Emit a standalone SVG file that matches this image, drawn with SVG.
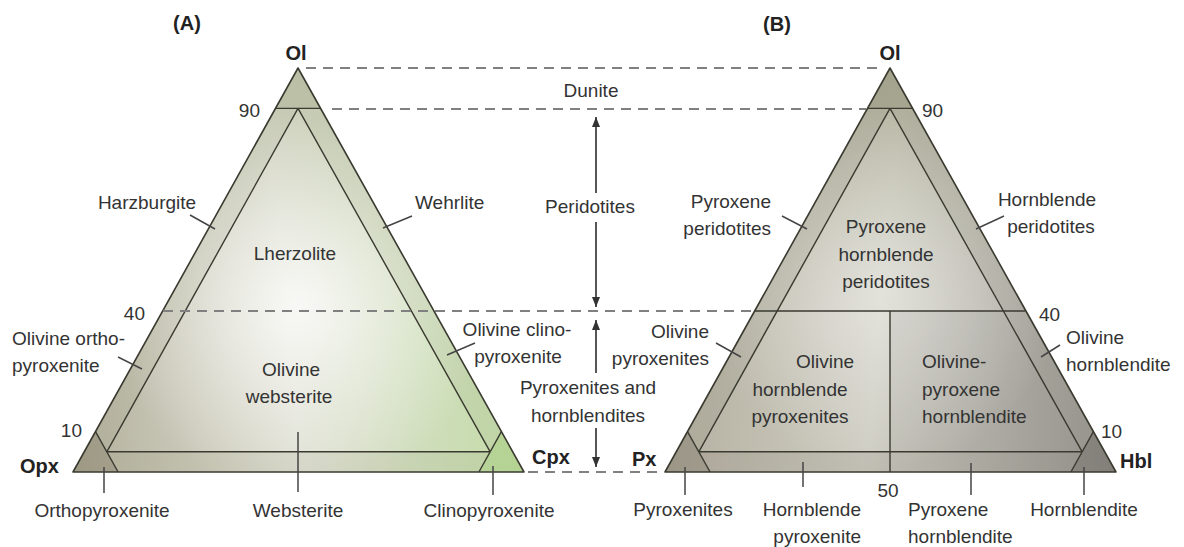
<svg xmlns="http://www.w3.org/2000/svg" width="1184" height="547" viewBox="0 0 1184 547">
  <style>
    text { font-family: "Liberation Sans", Arial, sans-serif; font-size: 19px; fill: #333; }
    .b { font-weight: bold; font-size: 20px; fill: #222; }
    .m { text-anchor: middle; }
    .e { text-anchor: end; }
    .edge { fill: none; stroke: #3a3a30; stroke-width: 1.6; stroke-linejoin: round; }
    .inner { fill: none; stroke: #3a3a30; stroke-width: 1.4; }
    .dash { fill: none; stroke: #808080; stroke-width: 2; stroke-dasharray: 10 7; }
    .lead { fill: none; stroke: #454545; stroke-width: 1.5; }
    .arr { fill: none; stroke: #444; stroke-width: 1.8; marker-end: url(#head); }
  </style>
  <defs>
    <marker id="head" viewBox="0 0 10 8" refX="10" refY="4" markerWidth="10" markerHeight="8" markerUnits="userSpaceOnUse" orient="auto">
      <path d="M0,0 L10,4 L0,8 z" fill="#333"/>
    </marker>
    <!-- shading for the Ol-Opx-Cpx triangle (local coordinates) -->
    <linearGradient id="aBase" gradientUnits="userSpaceOnUse" x1="73" y1="460" x2="524" y2="420">
      <stop offset="0" stop-color="#b3af9c"/>
      <stop offset="0.5" stop-color="#dedfd2"/>
      <stop offset="1" stop-color="#c3dca8"/>
    </linearGradient>
    <linearGradient id="aTop" gradientUnits="userSpaceOnUse" x1="0" y1="68" x2="0" y2="320">
      <stop offset="0" stop-color="#c0c3aa" stop-opacity="0.55"/>
      <stop offset="1" stop-color="#c0c3aa" stop-opacity="0"/>
    </linearGradient>
    <radialGradient id="aGlow" gradientUnits="userSpaceOnUse" cx="300" cy="305" r="190">
      <stop offset="0" stop-color="#fff" stop-opacity="0.8"/>
      <stop offset="0.6" stop-color="#fff" stop-opacity="0.3"/>
      <stop offset="1" stop-color="#fff" stop-opacity="0"/>
    </radialGradient>
    <!-- shading for the Ol-Px-Hbl triangle (local coordinates) -->
    <linearGradient id="bBase" gradientUnits="userSpaceOnUse" x1="73" y1="430" x2="524" y2="470">
      <stop offset="0" stop-color="#b5b0a0"/>
      <stop offset="0.45" stop-color="#cecdc2"/>
      <stop offset="1" stop-color="#98958f"/>
    </linearGradient>
    <linearGradient id="bTop" gradientUnits="userSpaceOnUse" x1="0" y1="68" x2="0" y2="320">
      <stop offset="0" stop-color="#a8a890" stop-opacity="0.65"/>
      <stop offset="1" stop-color="#a8a890" stop-opacity="0"/>
    </linearGradient>
    <radialGradient id="bGlow" gradientUnits="userSpaceOnUse" cx="290" cy="290" r="180">
      <stop offset="0" stop-color="#fff" stop-opacity="0.45"/>
      <stop offset="1" stop-color="#fff" stop-opacity="0"/>
    </radialGradient>
  </defs>

  <!-- guide lines shared by both triangles -->
  <g id="guides">
    <line class="dash" x1="306" y1="68" x2="884" y2="68"/>
    <line class="dash" x1="332" y1="109" x2="866" y2="109"/>
    <line class="dash" x1="163" y1="311" x2="755" y2="311"/>
    <line class="dash" x1="528" y1="472" x2="662" y2="472"/>
  </g>

  <!-- triangle A: Ol - Opx - Cpx -->
  <g id="triangleA">
    <polygon points="298,68 73,472 524,472" fill="url(#aBase)"/>
    <polygon points="298,68 73,472 524,472" fill="url(#aTop)"/>
    <polygon points="298,68 73,472 524,472" fill="url(#aGlow)"/>
    <polygon id="a-dunite" points="298,68 275.5,108.4 320.6,108.4" fill="#8d9270" fill-opacity="0.28"/>
    <polygon id="a-harzburgite" points="275.5,108.4 298,108.4 106.8,451.8 95.5,431.6" fill="#969c7c" fill-opacity="0.12"/>
    <polygon id="a-wehrlite" points="320.6,108.4 298,108.4 490.2,451.8 501.4,431.6" fill="#969c7c" fill-opacity="0.12"/>
    <polygon id="a-websterite" points="106.8,451.8 490.2,451.8 478.9,472 118.1,472" fill="#88886c" fill-opacity="0.12"/>
    <polygon id="a-opx" points="73,472 95.5,431.6 106.8,451.8 118.1,472" fill="#6e6650" fill-opacity="0.3"/>
    <polygon id="a-cpx" points="524,472 501.4,431.6 490.2,451.8 478.9,472" fill="#8fc060" fill-opacity="0.3"/>
    <polygon class="edge" points="298,68 73,472 524,472"/>
    <path class="inner" d="M275.5,108.4 H320.6 M298,108.4 L106.8,451.8 M298,108.4 L490.2,451.8 M106.8,451.8 H490.2 M95.5,431.6 L118.1,472 M501.4,431.6 L478.9,472"/>
    <line class="dash" x1="163" y1="311" x2="434" y2="311"/>
  </g>

  <!-- triangle B: Ol - Px - Hbl -->
  <g id="triangleB" transform="translate(592,0)">
    <polygon points="298,68 73,472 524,472" fill="url(#bBase)"/>
    <polygon points="298,68 73,472 524,472" fill="url(#bTop)"/>
    <polygon points="298,68 73,472 524,472" fill="url(#bGlow)"/>
    <polygon id="b-dunite" points="298,68 275.5,108.4 320.6,108.4" fill="#6f6f50" fill-opacity="0.25"/>
    <polygon id="b-pxper" points="275.5,108.4 298,108.4 106.8,451.8 95.5,431.6" fill="#707060" fill-opacity="0.12"/>
    <polygon id="b-hblper" points="320.6,108.4 298,108.4 490.2,451.8 501.4,431.6" fill="#707060" fill-opacity="0.12"/>
    <polygon id="b-right" points="298,311 410.8,311 490.2,451.8 298,451.8" fill="#5a5855" fill-opacity="0.08"/>
    <polygon id="b-strip" points="106.8,451.8 490.2,451.8 478.9,472 118.1,472" fill="#605e50" fill-opacity="0.12"/>
    <polygon id="b-px" points="73,472 95.5,431.6 106.8,451.8 118.1,472" fill="#5a5446" fill-opacity="0.28"/>
    <polygon id="b-hbl" points="524,472 501.4,431.6 490.2,451.8 478.9,472" fill="#4a4642" fill-opacity="0.28"/>
    <polygon class="edge" points="298,68 73,472 524,472"/>
    <path class="inner" d="M275.5,108.4 H320.6 M298,108.4 L106.8,451.8 M298,108.4 L490.2,451.8 M106.8,451.8 H490.2 M95.5,431.6 L118.1,472 M501.4,431.6 L478.9,472 M162.7,311 H433.3 M298,311 V472"/>
  </g>

  <!-- leader lines and range arrows -->
  <g id="connectors">
    <line class="lead" x1="190" y1="215" x2="215" y2="229"/>
    <line class="lead" x1="412" y1="216" x2="383" y2="228"/>
    <line class="lead" x1="118" y1="357" x2="142" y2="369"/>
    <line class="lead" x1="475" y1="343" x2="447" y2="355"/>
    <line class="lead" x1="104" y1="467" x2="104" y2="493"/>
    <line class="lead" x1="298" y1="432" x2="298" y2="492"/>
    <line class="lead" x1="493" y1="466" x2="493" y2="495"/>
    <line class="lead" x1="782" y1="216" x2="807" y2="229"/>
    <line class="lead" x1="1004" y1="216" x2="976" y2="229"/>
    <line class="lead" x1="716" y1="343" x2="741" y2="357"/>
    <line class="lead" x1="1060" y1="345" x2="1041" y2="357"/>
    <line class="lead" x1="685" y1="467" x2="685" y2="495"/>
    <line class="lead" x1="803" y1="462" x2="803" y2="487"/>
    <line class="lead" x1="971" y1="463" x2="971" y2="495"/>
    <line class="lead" x1="1084" y1="467" x2="1084" y2="495"/>
    <line class="arr" x1="596" y1="193" x2="596" y2="117"/>
    <line class="arr" x1="596" y1="222" x2="596" y2="307"/>
    <line class="arr" x1="596" y1="373" x2="596" y2="320"/>
    <line class="arr" x1="596" y1="428" x2="596" y2="467"/>
  </g>

  <!-- labels -->
  <g id="labels">
    <text class="b m" x="187" y="30">(A)</text>
    <text class="b m" x="777" y="31">(B)</text>
    <text class="b m" x="296" y="60">Ol</text>
    <text class="b m" x="890" y="60">Ol</text>
    <text class="b" x="20" y="473">Opx</text>
    <text class="b" x="532" y="464">Cpx</text>
    <text class="b" x="632" y="466">Px</text>
    <text class="b" x="1120" y="468">Hbl</text>

    <text class="e" x="260" y="117">90</text>
    <text class="e" x="145" y="320">40</text>
    <text class="e" x="82" y="437">10</text>
    <text x="922" y="117">90</text>
    <text x="1039" y="321">40</text>
    <text x="1101" y="438">10</text>
    <text class="m" x="888" y="497">50</text>

    <text class="m" x="591" y="97">Dunite</text>
    <text class="m" x="590" y="213">Peridotites</text>
    <text class="m" x="588" y="394">Pyroxenites and</text>
    <text class="m" x="588" y="422">hornblendites</text>

    <text class="m" x="147" y="209">Harzburgite</text>
    <text x="415" y="209">Wehrlite</text>
    <text class="m" x="295" y="260">Lherzolite</text>
    <text x="12" y="345">Olivine ortho-</text>
    <text x="12" y="372">pyroxenite</text>
    <text class="m" x="517" y="336">Olivine clino-</text>
    <text class="m" x="518" y="363">pyroxenite</text>
    <text class="m" x="291" y="376">Olivine</text>
    <text class="m" x="289" y="403">websterite</text>
    <text class="m" x="102" y="517">Orthopyroxenite</text>
    <text class="m" x="298" y="517">Websterite</text>
    <text class="m" x="489" y="517">Clinopyroxenite</text>

    <text class="e" x="771" y="208">Pyroxene</text>
    <text class="e" x="771" y="235">peridotites</text>
    <text class="m" x="1047" y="206">Hornblende</text>
    <text class="m" x="1051" y="233">peridotites</text>
    <text class="m" x="886" y="233">Pyroxene</text>
    <text class="m" x="886" y="261">hornblende</text>
    <text class="m" x="886" y="288">peridotites</text>
    <text class="e" x="709" y="338">Olivine</text>
    <text class="e" x="709" y="365">pyroxenites</text>
    <text x="1066" y="344">Olivine</text>
    <text x="1066" y="371">hornblendite</text>
    <text class="m" x="825" y="368">Olivine</text>
    <text class="m" x="800" y="396">hornblende</text>
    <text class="m" x="800" y="423">pyroxenites</text>
    <text x="922" y="368">Olivine-</text>
    <text x="922" y="396">pyroxene</text>
    <text x="922" y="423">hornblendite</text>
    <text class="m" x="683" y="516">Pyroxenites</text>
    <text class="e" x="861" y="516">Hornblende</text>
    <text class="e" x="861" y="543">pyroxenite</text>
    <text x="908" y="516">Pyroxene</text>
    <text x="908" y="543">hornblendite</text>
    <text class="m" x="1084" y="516">Hornblendite</text>
  </g>
</svg>
